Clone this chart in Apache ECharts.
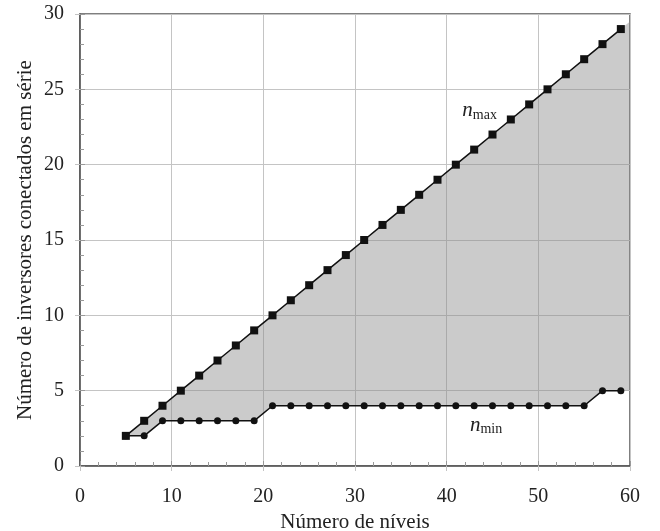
<!DOCTYPE html>
<html><head><meta charset="utf-8">
<script src="https://cdn.jsdelivr.net/npm/echarts@6/dist/echarts.min.js"></script>
<style>html,body{margin:0;padding:0;background:#fff}#c{width:660px;height:531px}</style>
</head><body><div id="c"></div>
<script>
const levels = [5,7,9,11,13,15,17,19,21,23,25,27,29,31,33,35,37,39,41,43,45,47,49,51,53,55,57,59];
const nMax = [2,3,4,5,6,7,8,9,10,11,12,13,14,15,16,17,18,19,20,21,22,23,24,25,26,27,28,29];
const nMin = [2,2,3,3,3,3,3,3,4,4,4,4,4,4,4,4,4,4,4,4,4,4,4,4,4,4,5,5];
const edgeX = 60, edgeMax = 29.5, edgeMin = 5;
const xTitle = 'Número de níveis';
const yTitle = 'Número de inversores conectados em série';

const font = 'Liberation Serif';
const chart = echarts.init(document.getElementById('c'));
const maxPts = levels.map((x,i)=>[x,nMax[i]]);
const minPts = levels.map((x,i)=>[x,nMin[i]]);
const poly = maxPts.concat([[edgeX,edgeMax],[edgeX,edgeMin]]).concat(minPts.slice().reverse());

const baseX = {type:'value',min:0,max:60,interval:10,position:'bottom'};
const baseY = {type:'value',min:0,max:30,interval:5,position:'left'};
chart.setOption({
  animation:false,
  grid:{left:80,right:30,top:14,bottom:65,outerBoundsMode:'none',containLabel:false,
    show:true,borderColor:'#555',borderWidth:1.5,backgroundColor:'transparent'},
  xAxis:[Object.assign({},baseX,{
    name:xTitle,nameLocation:'middle',nameGap:39,
    nameTextStyle:{fontFamily:font,fontSize:21,color:'#222'},
    axisLine:{lineStyle:{color:'#555',width:1.5}},
    axisTick:{inside:true,length:5,lineStyle:{color:'#999'}},
    minorTick:{show:true,splitNumber:5,length:4,lineStyle:{color:'#999'}},
    axisLabel:{fontFamily:font,fontSize:20,color:'#222',margin:21},
    splitLine:{show:true,lineStyle:{color:'#c4c4c4',width:1}}}),
    Object.assign({},baseX,{axisLine:{show:false},axisLabel:{show:false},splitLine:{show:false},
    axisTick:{inside:false,length:5,lineStyle:{color:'#c4c4c4'}}})],
  yAxis:[Object.assign({},baseY,{
    axisLine:{lineStyle:{color:'#555',width:1.5}},
    axisTick:{inside:true,length:5,lineStyle:{color:'#999'}},
    minorTick:{show:true,splitNumber:5,length:4,lineStyle:{color:'#999'}},
    axisLabel:{fontFamily:font,fontSize:20,color:'#222',margin:16},
    splitLine:{show:true,lineStyle:{color:'#c4c4c4',width:1}}}),
    Object.assign({},baseY,{axisLine:{show:false},axisLabel:{show:false},splitLine:{show:false},
    axisTick:{inside:false,length:5,lineStyle:{color:'#c4c4c4'}}})],
  series:[
    {type:'custom',data:[0],silent:true,z:1,
      renderItem:(params,api)=>({type:'polygon',
        shape:{points:poly.map(p=>api.coord(p))},
        style:{fill:'rgba(140,140,140,0.45)'}})},
    {type:'line',data:maxPts,symbol:'rect',symbolSize:8,z:3,
      lineStyle:{color:'#111',width:1.5},itemStyle:{color:'#111'}},
    {type:'line',data:minPts,symbol:'circle',symbolSize:7,z:3,
      lineStyle:{color:'#111',width:1.5},itemStyle:{color:'#111'}}
  ]
});

const pMax = chart.convertToPixel({gridIndex:0},[43.6,23.6]);
const pMin = chart.convertToPixel({gridIndex:0},[44.3,2.7]);
function lab(p,sub){
  return {type:'text',x:p[0],y:p[1],style:{
    text:'{n|n}{s|'+sub+'}',align:'center',verticalAlign:'middle',
    rich:{n:{fontFamily:font,fontStyle:'italic',fontSize:21,fill:'#222'},
          s:{fontFamily:font,fontSize:14,fill:'#222',padding:[9,0,0,0]}}}};
}
chart.setOption({graphic:[lab(pMax,'max'),lab(pMin,'min'),
  {type:'text',x:25,y:240,rotation:Math.PI/2,style:{text:yTitle,align:'center',verticalAlign:'middle',
    fontFamily:font,fontSize:21,fill:'#222'}}]});
</script></body></html>
